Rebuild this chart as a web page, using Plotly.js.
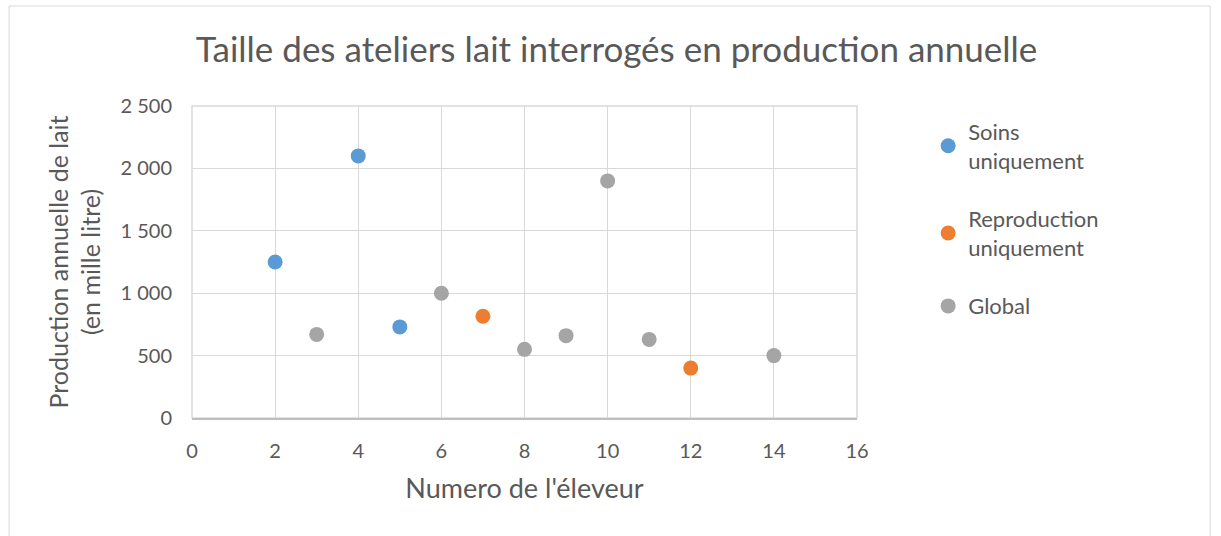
<!DOCTYPE html>
<html>
<head>
<meta charset="utf-8">
<script src="https://cdn.plot.ly/plotly-3.0.1.min.js"></script>
<style>html,body{margin:0;padding:0;background:#fff;}#chart{width:1221px;height:536px;}</style>
</head>
<body>
<div id="chart"></div>
<script>
const soinsX = [2, 4, 5];
const soinsY = [1250, 2100, 730];
const reproX = [7, 12];
const reproY = [815, 400];
const globalX = [3, 6, 8, 9, 10, 11, 14];
const globalY = [670, 1000, 550, 660, 1900, 630, 500];
const seriesNames = ["Soins<br>uniquement", "Reproduction<br>uniquement", "Global"];
const xTicks = [0, 2, 4, 6, 8, 10, 12, 14, 16];
const yTicks = [0, 500, 1000, 1500, 2000, 2500];

const FONT = "Lato, 'Open Sans', sans-serif";
const TXT = "#595959";
function trace(x, y, name, color, g) {
  return {x: x, y: y, name: name, type: "scatter", mode: "markers", legendgroup: g,
    marker: {color: color, size: 15}};
}
const data = [
  trace(soinsX, soinsY, seriesNames[0], "#5B9BD5", "a"),
  trace(reproX, reproY, seriesNames[1], "#ED7D31", "b"),
  trace(globalX, globalY, seriesNames[2], "#A5A5A5", "c")
];
const layout = {
  width: 1221, height: 536,
  margin: {l: 192, r: 364, t: 106, b: 118},
  paper_bgcolor: "#fff", plot_bgcolor: "#fff",
  separators: ", ",
  font: {family: FONT, color: TXT, size: 20},
  title: {text: "Taille des ateliers lait interrogés en production annuelle",
    font: {family: FONT, size: 35, color: TXT}, x: 0.505, xanchor: "center", y: 0.907, yanchor: "middle"},
  xaxis: {range: [0, 16], tickvals: xTicks, showgrid: true, gridcolor: "#D9D9D9", gridwidth: 1,
    zeroline: false, showline: true, linecolor: "#BFBFBF", linewidth: 1.5, mirror: false,
    ticks: "", ticklabelstandoff: 14, tickfont: {size: 20, color: TXT}, automargin: false,
    title: {text: "Numero de l'éleveur", font: {size: 27, color: TXT}, standoff: 18}},
  yaxis: {range: [0, 2500], tickvals: yTicks, tickformat: ",d", showgrid: true, gridcolor: "#D9D9D9", gridwidth: 1,
    zeroline: false, showline: false,
    ticks: "", ticklabelstandoff: 19, tickfont: {size: 20, color: TXT}, automargin: false,
    title: {text: "Production annuelle de lait<br>(en mille litre)", font: {size: 25, color: TXT}, standoff: 12}},
  showlegend: true,
  legend: {x: 1.107, y: 0.985, xanchor: "left", yanchor: "top", traceorder: "grouped", tracegroupgap: 27,
    font: {size: 22, color: TXT}, bgcolor: "rgba(0,0,0,0)"},
  shapes: [
    {type: "rect", xref: "paper", yref: "paper", x0: -0.275, x1: 1.531, y0: -0.6, y1: 1.3205,
      line: {color: "#D9D9D9", width: 1}, fillcolor: "rgba(0,0,0,0)", layer: "below"},
    {type: "rect", xref: "paper", yref: "paper", x0: 0, x1: 1, y0: 0, y1: 1,
      line: {color: "#D9D9D9", width: 1.5}, fillcolor: "rgba(0,0,0,0)", layer: "below"}
  ]
};
Plotly.newPlot("chart", data, layout, {displayModeBar: false, staticPlot: true});
</script>
</body>
</html>
